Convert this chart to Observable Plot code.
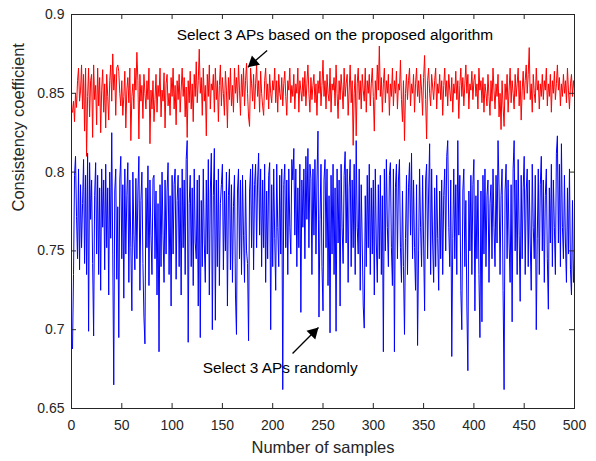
<!DOCTYPE html>
<html>
<head>
<meta charset="utf-8">
<script src="https://cdn.jsdelivr.net/npm/d3@7"></script>
<script src="https://cdn.jsdelivr.net/npm/@observablehq/plot@0.6"></script>
<style>
  html, body { margin: 0; padding: 0; background: #ffffff; }
</style>
</head>
<body>
<div id="chart"></div>
<script>
// ---- Data ----
const proposedValues = [
0.838,0.845,0.832,0.850,0.841,0.858,0.866,0.845,0.852,0.868,
0.840,0.862,0.826,0.866,0.810,0.848,0.866,0.835,0.858,0.862,
0.822,0.868,0.846,0.855,0.830,0.866,0.842,0.860,0.825,0.852,
0.865,0.838,0.856,0.828,0.862,0.848,0.833,0.858,0.868,0.845,
0.875,0.852,0.862,0.836,0.866,0.868,0.864,0.850,0.842,0.858,
0.836,0.848,0.864,0.828,0.852,0.860,0.844,0.866,0.820,0.848,
0.856,0.840,0.866,0.852,0.876,0.858,0.821,0.862,0.845,0.855,
0.834,0.862,0.850,0.840,0.858,0.846,0.866,0.818,0.852,0.840,
0.858,0.832,0.846,0.862,0.838,0.855,0.848,0.866,0.835,0.852,
0.845,0.863,0.828,0.856,0.862,0.842,0.850,0.836,0.860,0.848,
0.866,0.840,0.855,0.830,0.858,0.846,0.862,0.838,0.852,0.866,
0.848,0.860,0.835,0.854,0.822,0.858,0.844,0.864,0.840,0.856,
0.832,0.862,0.848,0.870,0.844,0.858,0.878,0.850,0.860,0.836,
0.866,0.845,0.855,0.823,0.862,0.848,0.868,0.840,0.856,0.852,
0.862,0.838,0.866,0.846,0.858,0.832,0.855,0.868,0.842,0.860,
0.850,0.836,0.864,0.852,0.828,0.860,0.846,0.866,0.842,0.855,
0.838,0.866,0.850,0.860,0.844,0.868,0.852,0.836,0.862,0.848,
0.866,0.842,0.858,0.869,0.850,0.835,0.829,0.866,0.856,0.845,
0.862,0.840,0.856,0.868,0.848,0.858,0.838,0.864,0.850,0.842,
0.836,0.858,0.866,0.846,0.856,0.840,0.862,0.850,0.844,0.858,
0.852,0.866,0.844,0.858,0.838,0.862,0.850,0.846,0.860,0.842,
0.856,0.864,0.848,0.836,0.858,0.852,0.866,0.844,0.855,0.848,
0.862,0.840,0.856,0.850,0.866,0.838,0.858,0.852,0.845,0.860,
0.848,0.864,0.842,0.856,0.868,0.850,0.838,0.860,0.846,0.855,
0.862,0.844,0.856,0.836,0.858,0.850,0.864,0.842,0.855,0.871,
0.848,0.858,0.840,0.862,0.850,0.845,0.866,0.838,0.856,0.852,
0.860,0.842,0.868,0.850,0.834,0.858,0.846,0.862,0.852,0.840,
0.866,0.848,0.856,0.862,0.836,0.852,0.868,0.844,0.858,0.817,
0.850,0.862,0.823,0.856,0.866,0.846,0.858,0.840,0.862,0.852,
0.845,0.866,0.838,0.858,0.850,0.862,0.842,0.856,0.866,0.848,
0.826,0.858,0.846,0.868,0.852,0.880,0.848,0.860,0.838,0.856,
0.866,0.844,0.858,0.850,0.862,0.836,0.856,0.848,0.866,0.842,
0.858,0.850,0.864,0.840,0.856,0.852,0.871,0.846,0.832,0.858,
0.820,0.850,0.862,0.846,0.858,0.866,0.842,0.856,0.850,0.862,
0.838,0.856,0.866,0.848,0.858,0.844,0.862,0.852,0.836,0.860,
0.874,0.846,0.821,0.858,0.866,0.850,0.842,0.862,0.854,0.846,
0.858,0.866,0.840,0.856,0.850,0.862,0.846,0.858,0.836,0.855,
0.866,0.848,0.858,0.842,0.862,0.852,0.845,0.860,0.838,0.856,
0.850,0.864,0.846,0.858,0.834,0.855,0.866,0.848,0.860,0.842,
0.856,0.868,0.850,0.862,0.840,0.856,0.852,0.864,0.846,0.858,
0.862,0.848,0.856,0.840,0.866,0.852,0.858,0.844,0.860,0.838,
0.856,0.850,0.842,0.862,0.848,0.836,0.858,0.845,0.866,0.852,
0.840,0.856,0.848,0.862,0.835,0.850,0.827,0.858,0.842,0.829,
0.856,0.846,0.862,0.838,0.852,0.866,0.844,0.858,0.850,0.840,
0.862,0.848,0.856,0.866,0.842,0.858,0.833,0.852,0.864,0.846,
0.858,0.868,0.850,0.862,0.879,0.846,0.856,0.838,0.862,0.850,
0.844,0.866,0.852,0.858,0.840,0.856,0.848,0.862,0.846,0.858,
0.852,0.866,0.842,0.856,0.848,0.862,0.838,0.858,0.850,0.864,
0.846,0.856,0.868,0.852,0.860,0.842,0.856,0.848,0.862,0.850,
0.858,0.844,0.866,0.852,0.840,0.856,0.862,0.848,0.858,0.852
];

const randomValues = [
0.688,0.735,0.798,0.810,0.772,0.745,0.802,0.738,0.792,0.752,
0.780,0.808,0.742,0.798,0.735,0.812,0.699,0.806,0.770,0.795,
0.742,0.696,0.785,0.806,0.748,0.798,0.735,0.790,0.725,0.802,
0.765,0.795,0.738,0.805,0.752,0.790,0.722,0.800,0.758,0.825,
0.748,0.665,0.788,0.802,0.732,0.778,0.695,0.795,0.810,0.745,
0.792,0.720,0.802,0.748,0.785,0.806,0.730,0.795,0.752,0.712,
0.800,0.760,0.738,0.796,0.745,0.788,0.810,0.725,0.782,0.800,
0.742,0.708,0.691,0.790,0.752,0.804,0.728,0.795,0.760,0.735,
0.796,0.798,0.745,0.788,0.722,0.780,0.686,0.792,0.740,0.800,
0.760,0.730,0.795,0.748,0.788,0.806,0.735,0.785,0.715,0.798,
0.748,0.792,0.802,0.732,0.782,0.798,0.740,0.790,0.722,0.802,
0.752,0.795,0.735,0.808,0.820,0.692,0.780,0.798,0.740,0.790,
0.728,0.802,0.755,0.745,0.795,0.715,0.798,0.695,0.782,0.740,
0.802,0.755,0.730,0.795,0.748,0.808,0.722,0.788,0.812,0.700,
0.785,0.815,0.706,0.795,0.740,0.802,0.728,0.780,0.792,0.805,
0.738,0.788,0.750,0.800,0.715,0.785,0.802,0.738,0.792,0.730,
0.778,0.798,0.722,0.697,0.788,0.802,0.745,0.795,0.735,0.798,
0.760,0.730,0.795,0.750,0.742,0.693,0.788,0.802,0.752,0.805,
0.738,0.792,0.805,0.752,0.795,0.812,0.760,0.802,0.740,0.795,
0.752,0.805,0.730,0.788,0.745,0.798,0.806,0.700,0.792,0.740,
0.802,0.758,0.725,0.805,0.765,0.740,0.798,0.748,0.802,0.662,
0.792,0.805,0.752,0.795,0.735,0.802,0.765,0.748,0.808,0.795,
0.815,0.760,0.802,0.740,0.790,0.752,0.805,0.711,0.795,0.765,
0.802,0.745,0.810,0.770,0.815,0.752,0.805,0.796,0.735,0.802,
0.760,0.808,0.748,0.795,0.826,0.708,0.770,0.805,0.740,0.712,
0.795,0.808,0.752,0.802,0.728,0.785,0.698,0.798,0.748,0.805,
0.735,0.790,0.699,0.802,0.755,0.795,0.715,0.805,0.765,0.742,
0.798,0.813,0.755,0.802,0.730,0.790,0.808,0.740,0.795,0.752,
0.805,0.735,0.820,0.765,0.748,0.802,0.725,0.792,0.755,0.715,
0.701,0.785,0.740,0.798,0.752,0.805,0.735,0.790,0.748,0.795,
0.722,0.802,0.755,0.730,0.792,0.745,0.798,0.735,0.785,0.686,
0.802,0.750,0.808,0.765,0.740,0.798,0.806,0.752,0.728,0.802,
0.686,0.790,0.805,0.745,0.795,0.808,0.752,0.730,0.788,0.740,
0.697,0.758,0.798,0.735,0.790,0.806,0.760,0.812,0.745,0.795,
0.752,0.725,0.792,0.690,0.750,0.802,0.765,0.740,0.798,0.755,
0.712,0.795,0.805,0.745,0.788,0.818,0.735,0.802,0.755,0.730,
0.790,0.740,0.798,0.758,0.725,0.788,0.745,0.795,0.735,0.785,
0.802,0.750,0.810,0.820,0.765,0.740,0.795,0.683,0.758,0.802,
0.745,0.792,0.735,0.820,0.760,0.798,0.725,0.700,0.788,0.802,
0.740,0.782,0.715,0.674,0.788,0.750,0.798,0.735,0.792,0.808,
0.712,0.785,0.745,0.795,0.735,0.695,0.788,0.705,0.798,0.748,
0.802,0.740,0.785,0.795,0.730,0.780,0.792,0.745,0.802,0.765,
0.740,0.798,0.755,0.820,0.790,0.735,0.785,0.802,0.725,0.662,
0.788,0.805,0.745,0.795,0.755,0.730,0.792,0.705,0.802,0.820,
0.750,0.795,0.735,0.808,0.760,0.718,0.798,0.745,0.790,0.810,
0.735,0.788,0.802,0.740,0.795,0.755,0.725,0.805,0.765,0.745,
0.798,0.700,0.758,0.802,0.735,0.792,0.810,0.750,0.795,0.730,
0.785,0.802,0.745,0.713,0.790,0.755,0.805,0.740,0.795,0.765,
0.735,0.812,0.823,0.755,0.805,0.740,0.818,0.765,0.745,0.798,
0.755,0.730,0.790,0.748,0.802,0.738,0.722,0.782,0.730,0.745
];

const xTicks = [0, 50, 100, 150, 200, 250, 300, 350, 400, 450, 500];
const xTickLabels = ["0", "50", "100", "150", "200", "250", "300", "350", "400", "450", "500"];
const yTicks = [0.65, 0.7, 0.75, 0.8, 0.85, 0.9];
const yTickLabels = ["0.65", "0.7", "0.75", "0.8", "0.85", "0.9"];

const xLabel = "Number of samples";
const yLabel = "Consistency coefficient";

const noteTexts = ["Select 3 APs based on the proposed algorithm", "Select 3 APs randomly"];
const noteX = [104.5, 130.5];
const noteY = [0.8867, 0.6754];

const arrowTailX = [194.5, 219.7];
const arrowTailY = [0.8772, 0.6849];
const arrowTipX = [175.3, 245.5];
const arrowTipY = [0.8666, 0.7014];

// ---- Layout ----
const W = 596, H = 461;
const mL = 71, mR = 22, mT = 14, mB = 53;
const plotW = W - mL - mR, plotH = H - mT - mB;
const tickLen = 5;
const axisColor = "#262626";
const font = "'Liberation Sans', Arial, Helvetica, sans-serif";

const proposed = proposedValues.map((v, i) => ({x: i + 1, y: v}));
const random = randomValues.map((v, i) => ({x: i + 1, y: v}));
const notes = noteTexts.map((t, i) => ({t, x: noteX[i], y: noteY[i]}));
const arrows = arrowTailX.map((_, i) => ({x1: arrowTailX[i], y1: arrowTailY[i], x2: arrowTipX[i], y2: arrowTipY[i]}));

const xDomain = [0, 500], yDomain = [0.65, 0.9];
const pxPerX = plotW / (xDomain[1] - xDomain[0]);
const pxPerY = plotH / (yDomain[1] - yDomain[0]);
const headR = 4.6;
const headC = 2 * Math.sqrt(Math.PI * headR * headR / (3 * Math.sqrt(3))); // tip distance from centroid

const headMarks = arrows.map(a => {
  const dxp = (a.x2 - a.x1) * pxPerX;
  const dyp = -(a.y2 - a.y1) * pxPerY;
  const len = Math.hypot(dxp, dyp);
  const ux = dxp / len, uy = dyp / len;
  const angle = Math.atan2(dxp, -dyp) * 180 / Math.PI;
  return Plot.dot([a], {
    x: "x2", y: "y2", symbol: "triangle", r: headR, fill: "#000", stroke: "none",
    rotate: angle, dx: -ux * headC, dy: -uy * headC
  });
});

const chart = Plot.plot({
  width: W,
  height: H,
  marginLeft: mL,
  marginRight: mR,
  marginTop: mT,
  marginBottom: mB,
  style: {fontFamily: font, background: "#ffffff", color: axisColor, overflow: "visible"},
  x: {domain: xDomain, axis: null},
  y: {domain: yDomain, axis: null},
  marks: [
    Plot.line(random, {x: "x", y: "y", stroke: "#0000ff", strokeWidth: 1}),
    Plot.line(proposed, {x: "x", y: "y", stroke: "#ff0000", strokeWidth: 1}),
    // inward ticks on all four sides
    Plot.ruleX(xTicks, {x: d => d, insetTop: plotH - tickLen, stroke: axisColor}),
    Plot.ruleX(xTicks, {x: d => d, insetBottom: plotH - tickLen, stroke: axisColor}),
    Plot.ruleY(yTicks, {y: d => d, insetRight: plotW - tickLen, stroke: axisColor}),
    Plot.ruleY(yTicks, {y: d => d, insetLeft: plotW - tickLen, stroke: axisColor}),
    Plot.frame({stroke: axisColor, strokeWidth: 1}),
    Plot.axisX(xTicks, {anchor: "bottom", tickSize: 0, tickPadding: 12, fontSize: 14,
      tickFormat: d => xTickLabels[xTicks.indexOf(d)], label: null, fill: axisColor}),
    Plot.axisY(yTicks, {anchor: "left", tickSize: 0, tickPadding: 7, fontSize: 14,
      tickFormat: d => yTickLabels[yTicks.indexOf(d)], label: null, fill: axisColor}),
    Plot.text([xLabel], {frameAnchor: "bottom", dy: 44, fontSize: 16.5, fill: axisColor, text: d => d}),
    Plot.text([yLabel], {frameAnchor: "left", dx: -53, rotate: -90, fontSize: 16.5, fill: axisColor, text: d => d}),
    Plot.text(notes, {x: "x", y: "y", text: "t", textAnchor: "start", fontSize: 15.4, fill: "#000"}),
    Plot.link(arrows, {x1: "x1", y1: "y1", x2: "x2", y2: "y2", stroke: "#000", strokeWidth: 1.3}),
    ...headMarks
  ]
});

document.getElementById("chart").appendChild(chart);
</script>
</body>
</html>
